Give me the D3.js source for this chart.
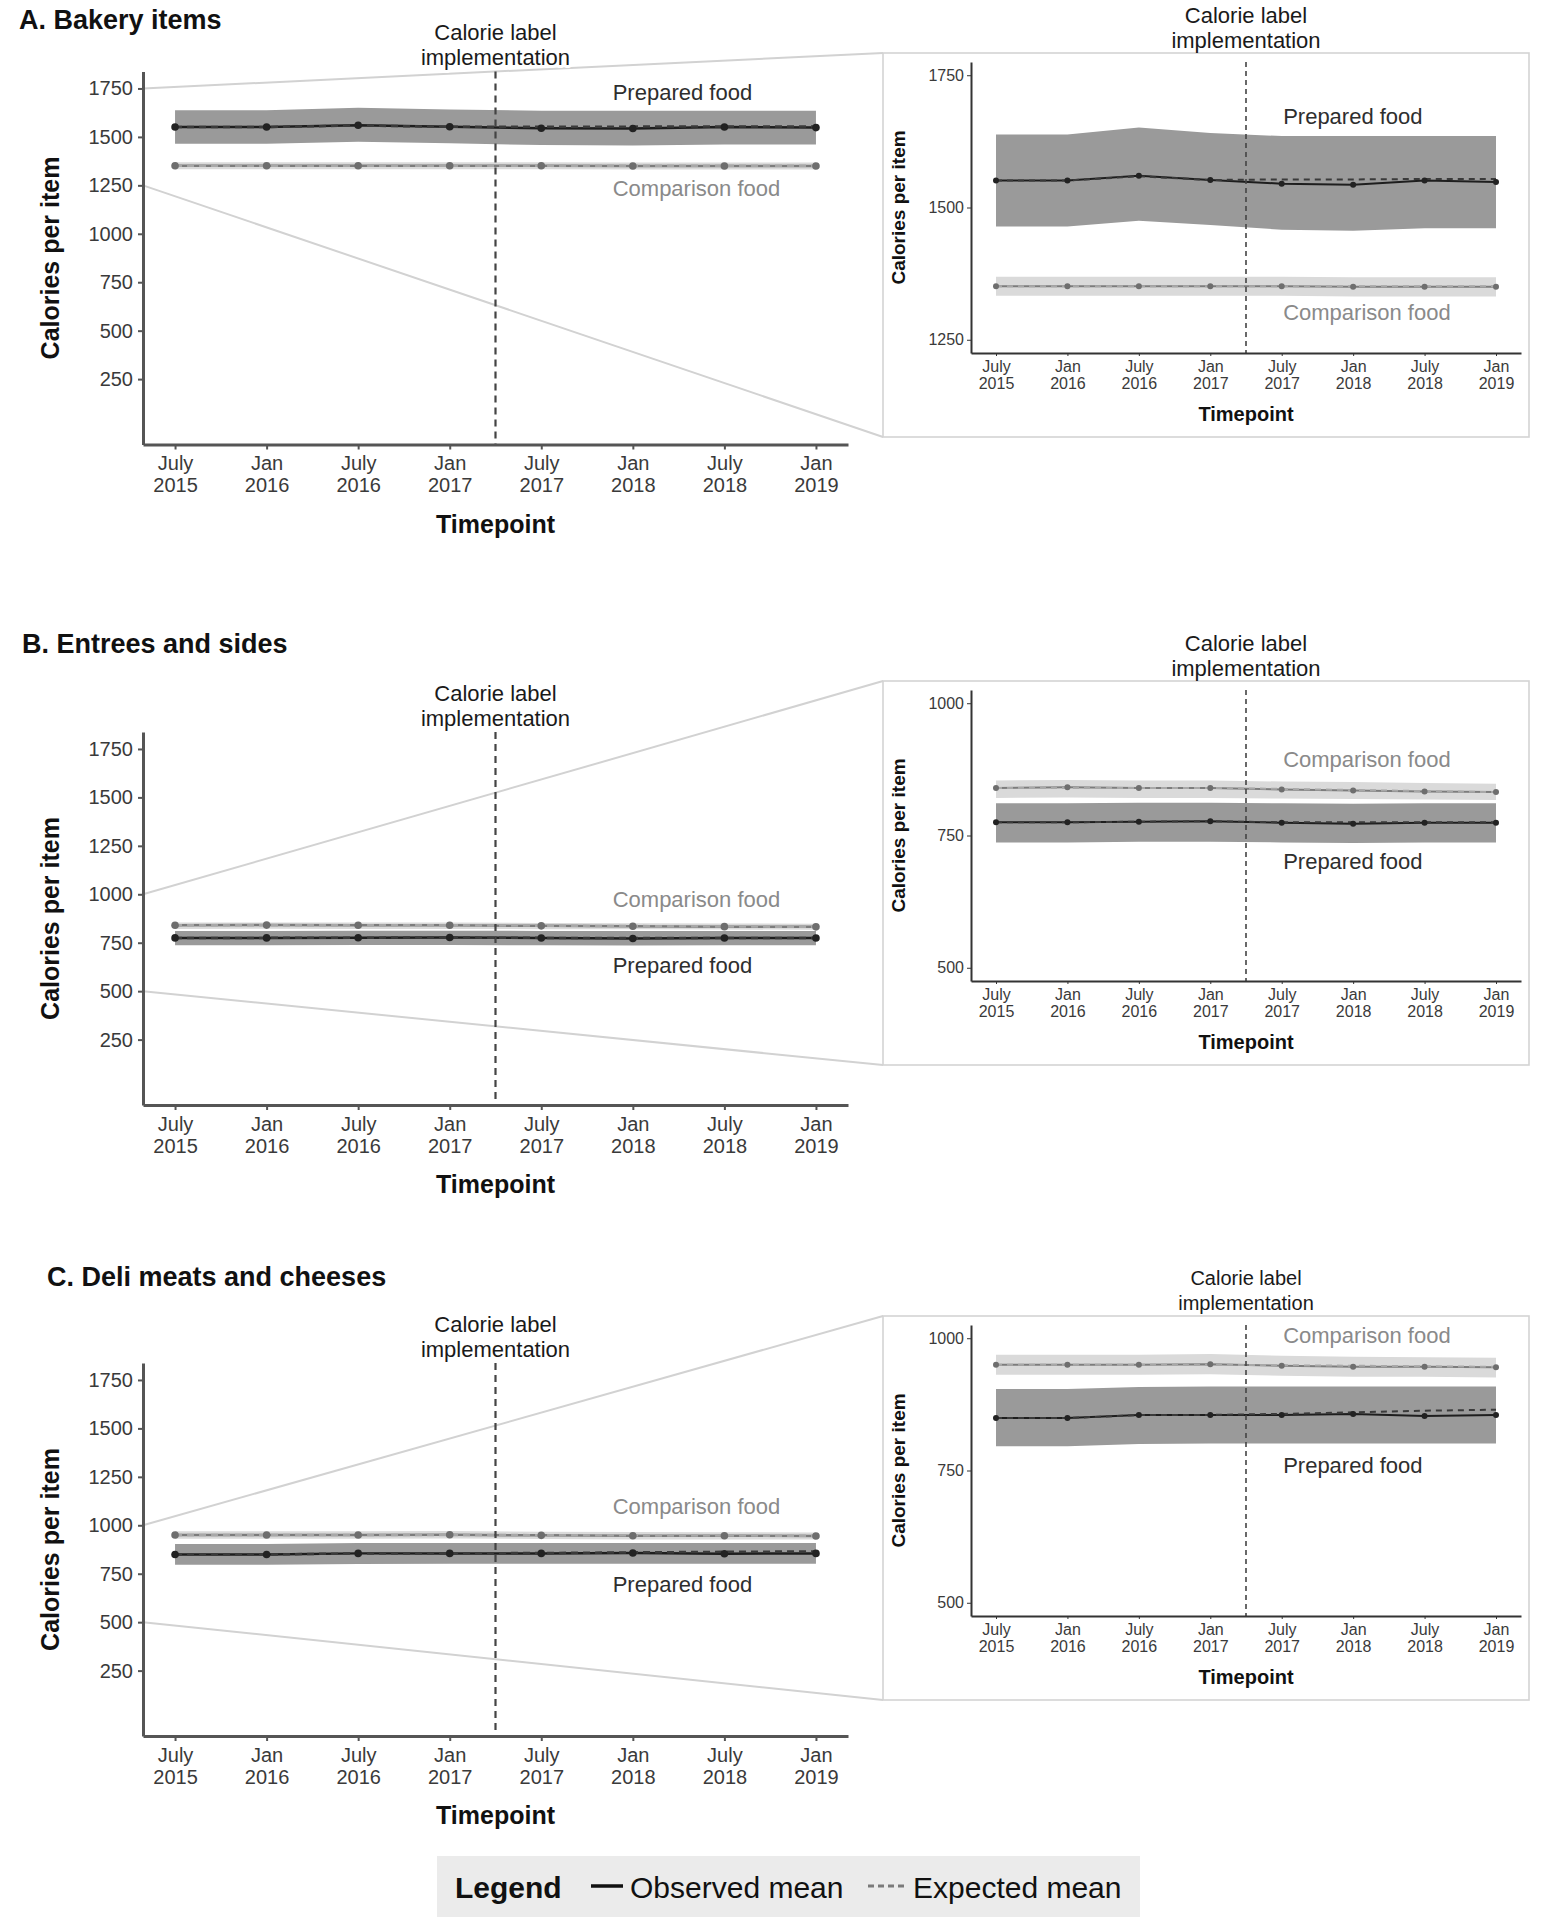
<!DOCTYPE html>
<html>
<head>
<meta charset="utf-8">
<script src="https://cdn.jsdelivr.net/npm/d3@7"></script>
<style>
  html, body { margin: 0; padding: 0; background: #fff; }
  svg { display: block; font-family: "Liberation Sans", Arial, Helvetica, sans-serif; }
</style>
</head>
<body>
<svg id="chart" width="1541" height="1920"></svg>
<script>
// ---------------- DATA ----------------
const timepoints = ["July 2015", "Jan 2016", "July 2016", "Jan 2017", "July 2017", "Jan 2018", "July 2018", "Jan 2019"];
const implementationIndex = 3.5;          // between Jan 2017 and July 2017
const mainYTicks = [250, 500, 750, 1000, 1250, 1500, 1750];
const insetYTicksBakery = [1250, 1500, 1750];
const insetYTicksOther = [500, 750, 1000];

// A. Bakery items
const bakeryPreparedObserved = [1551, 1551, 1560, 1552, 1545, 1543, 1551, 1548];
const bakeryPreparedExpected = [1551, 1551, 1559, 1552, 1553, 1553, 1554, 1554];
const bakeryPreparedLow      = [1464, 1464, 1475, 1467, 1458, 1456, 1461, 1461];
const bakeryPreparedHigh     = [1638, 1638, 1651, 1641, 1635, 1635, 1635, 1635];
const bakeryComparisonObserved = [1351, 1351, 1351, 1351, 1351, 1350, 1350, 1350];
const bakeryComparisonExpected = [1351, 1351, 1351, 1351, 1351, 1351, 1351, 1351];
const bakeryComparisonLow      = [1333, 1333, 1333, 1333, 1333, 1332, 1332, 1332];
const bakeryComparisonHigh     = [1369, 1369, 1369, 1369, 1369, 1368, 1368, 1368];

// B. Entrees and sides
const entreesPreparedObserved = [775, 775, 776, 777, 774, 772, 774, 774];
const entreesPreparedExpected = [775, 775, 776, 777, 775, 775, 775, 775];
const entreesPreparedLow      = [737, 737, 738, 738, 737, 736, 737, 737];
const entreesPreparedHigh     = [811, 811, 812, 812, 811, 810, 811, 811];
const entreesComparisonObserved = [840, 841, 840, 840, 837, 835, 833, 832];
const entreesComparisonExpected = [840, 840, 840, 840, 838, 836, 834, 832];
const entreesComparisonLow      = [821, 822, 821, 821, 820, 819, 818, 817];
const entreesComparisonHigh     = [854, 855, 854, 854, 852, 851, 849, 848];

// C. Deli meats and cheeses
const deliPreparedObserved = [849, 849, 855, 855, 855, 857, 853, 855];
const deliPreparedExpected = [849, 849, 855, 855, 857, 860, 863, 865];
const deliPreparedLow      = [796, 796, 800, 801, 801, 801, 801, 801];
const deliPreparedHigh     = [904, 904, 908, 909, 909, 909, 909, 909];
const deliComparisonObserved = [950, 950, 950, 951, 948, 946, 946, 945];
const deliComparisonExpected = [950, 950, 950, 950, 949, 948, 947, 946];
const deliComparisonLow      = [931, 931, 931, 932, 929, 927, 927, 926];
const deliComparisonHigh     = [969, 969, 969, 970, 967, 965, 964, 963];

// ---------------- LAYOUT ----------------
const svg = d3.select("#chart");
const MAIN = { left: 143, right: 848, height: 373, yDomain: [-87.5, 1837.5] };
const INSET = { left: 971, right: 1521, boxLeft: 883, boxRight: 1529, boxH: 384, top: 9, bottom: 300 };
const C_PREP_BAND = "#9a9a9a", C_COMP_BAND = "#dadada";
const C_PREP_LINE = "#1e1e1e", C_COMP_LINE = "#7d7d7d";
const fmt = d3.format("d");

function series(obs, exp, lo, hi) {
  return timepoints.map((t, i) => ({ i, obs: obs[i], exp: exp[i], lo: lo[i], hi: hi[i] }));
}

const panels = [
  {
    title: "A. Bakery items", titleX: 19, titleY: 20,
    mainBottom: 444.5, insetTop: 53, insetDomain: [1225, 1775], insetTicks: insetYTicksBakery,
    zoomRange: [1250, 1750], implFontInset: 22,
    prepared: series(bakeryPreparedObserved, bakeryPreparedExpected, bakeryPreparedLow, bakeryPreparedHigh),
    comparison: series(bakeryComparisonObserved, bakeryComparisonExpected, bakeryComparisonLow, bakeryComparisonHigh),
    mainLabels: [{ text: "Prepared food", x: 4.78, v: 1730, comp: false }, { text: "Comparison food", x: 4.78, v: 1236, comp: true }],
    insetLabels: [{ text: "Prepared food", x: 4.02, v: 1672, comp: false }, { text: "Comparison food", x: 4.02, v: 1302, comp: true }]
  },
  {
    title: "B. Entrees and sides", titleX: 22, titleY: 644,
    mainBottom: 1105, insetTop: 681, insetDomain: [475, 1025], insetTicks: insetYTicksOther,
    zoomRange: [500, 1000], implFontInset: 22,
    prepared: series(entreesPreparedObserved, entreesPreparedExpected, entreesPreparedLow, entreesPreparedHigh),
    comparison: series(entreesComparisonObserved, entreesComparisonExpected, entreesComparisonLow, entreesComparisonHigh),
    mainLabels: [{ text: "Comparison food", x: 4.78, v: 975, comp: true }, { text: "Prepared food", x: 4.78, v: 630, comp: false }],
    insetLabels: [{ text: "Comparison food", x: 4.02, v: 893, comp: true }, { text: "Prepared food", x: 4.02, v: 700, comp: false }]
  },
  {
    title: "C. Deli meats and cheeses", titleX: 47, titleY: 1277,
    mainBottom: 1736, insetTop: 1316, insetDomain: [475, 1025], insetTicks: insetYTicksOther,
    zoomRange: [500, 1000], implFontInset: 20,
    prepared: series(deliPreparedObserved, deliPreparedExpected, deliPreparedLow, deliPreparedHigh),
    comparison: series(deliComparisonObserved, deliComparisonExpected, deliComparisonLow, deliComparisonHigh),
    mainLabels: [{ text: "Comparison food", x: 4.78, v: 1096, comp: true }, { text: "Prepared food", x: 4.78, v: 692, comp: false }],
    insetLabels: [{ text: "Comparison food", x: 4.02, v: 1006, comp: true }, { text: "Prepared food", x: 4.02, v: 760, comp: false }]
  }
];

function drawPlot(g, x, y, p, opt) {
  const area = d3.area().x(d => x(d.i)).y0(d => y(d.lo)).y1(d => y(d.hi));
  const lineObs = d3.line().x(d => x(d.i)).y(d => y(d.obs));
  const lineExp = d3.line().x(d => x(d.i)).y(d => y(d.exp));

  g.append("path").datum(p.prepared).attr("d", area).attr("fill", C_PREP_BAND);
  g.append("path").datum(p.comparison).attr("d", area).attr("fill", C_COMP_BAND);

  g.append("path").datum(p.comparison).attr("d", lineObs).attr("fill", "none")
    .attr("stroke", C_COMP_LINE).attr("stroke-width", opt.lw);
  g.append("path").datum(p.comparison).attr("d", lineExp).attr("fill", "none")
    .attr("stroke", "#a8a8a8").attr("stroke-width", opt.lw).attr("stroke-dasharray", opt.dash);
  g.append("path").datum(p.prepared).attr("d", lineObs).attr("fill", "none")
    .attr("stroke", C_PREP_LINE).attr("stroke-width", opt.lw);
  g.append("path").datum(p.prepared).attr("d", lineExp).attr("fill", "none")
    .attr("stroke", "#3a3a3a").attr("stroke-width", opt.lw).attr("stroke-dasharray", opt.dash);

  g.selectAll(null).data(p.comparison).enter().append("circle")
    .attr("cx", d => x(d.i)).attr("cy", d => y(d.obs)).attr("r", opt.r).attr("fill", "#6e6e6e");
  g.selectAll(null).data(p.prepared).enter().append("circle")
    .attr("cx", d => x(d.i)).attr("cy", d => y(d.obs)).attr("r", opt.r).attr("fill", "#222");
}

function styleAxis(ax, color, width) {
  ax.select(".domain").attr("stroke", color).attr("stroke-width", width);
  ax.selectAll(".tick line").attr("stroke", color).attr("stroke-width", Math.max(1, width - 1));
}

function twoLineTicks(ax, fontSize, y1, y2) {
  ax.selectAll(".tick text").each(function (i) {
    const parts = timepoints[i].split(" ");
    const t = d3.select(this).text(null).attr("y", null).attr("dy", null);
    t.append("tspan").attr("x", 0).attr("y", y1).text(parts[0]);
    t.append("tspan").attr("x", 0).attr("y", y2).text(parts[1]);
  });
  ax.selectAll(".tick text").attr("font-size", fontSize).attr("fill", "#3a3a3a").attr("font-family", null);
}

// ---------------- CONNECTORS (behind) ----------------
panels.forEach(p => {
  const yM = d3.scaleLinear().domain(MAIN.yDomain).range([p.mainBottom, p.mainBottom - MAIN.height]);
  const top = p.insetTop, bottom = p.insetTop + INSET.boxH;
  svg.append("line").attr("x1", MAIN.left).attr("y1", yM(p.zoomRange[1]))
    .attr("x2", INSET.boxLeft).attr("y2", top).attr("stroke", "#d2d2d2").attr("stroke-width", 2);
  svg.append("line").attr("x1", MAIN.left).attr("y1", yM(p.zoomRange[0]))
    .attr("x2", INSET.boxLeft).attr("y2", bottom).attr("stroke", "#d2d2d2").attr("stroke-width", 2);
});

// ---------------- PANELS ----------------
panels.forEach(p => {
  const g = svg.append("g");
  const x = d3.scaleLinear().domain([-0.35, 7.35]).range([MAIN.left, MAIN.right]);
  const y = d3.scaleLinear().domain(MAIN.yDomain).range([p.mainBottom, p.mainBottom - MAIN.height]);
  const plotTop = p.mainBottom - MAIN.height;

  g.append("text").attr("x", p.titleX).attr("y", p.titleY).attr("dominant-baseline", "central")
    .attr("font-size", 27).attr("font-weight", "bold").attr("fill", "#111").text(p.title);

  drawPlot(g, x, y, p, { lw: 2.5, dash: "7,5", r: 3.8 });

  g.append("line").attr("x1", x(implementationIndex)).attr("x2", x(implementationIndex))
    .attr("y1", plotTop).attr("y2", p.mainBottom)
    .attr("stroke", "#444").attr("stroke-width", 2.2).attr("stroke-dasharray", "7,5");

  const implText = g.append("text").attr("text-anchor", "middle").attr("font-size", 22).attr("fill", "#1a1a1a")
    .attr("stroke", "#fff").attr("stroke-width", 6).attr("paint-order", "stroke").attr("stroke-linejoin", "round");
  implText.append("tspan").attr("x", x(implementationIndex)).attr("y", plotTop - 39).attr("dominant-baseline", "central").text("Calorie label");
  implText.append("tspan").attr("x", x(implementationIndex)).attr("y", plotTop - 14).attr("dominant-baseline", "central").text("implementation");

  p.mainLabels.forEach(l => {
    g.append("text").attr("x", x(l.x)).attr("y", y(l.v)).attr("dominant-baseline", "central")
      .attr("font-size", 22).attr("fill", l.comp ? "#8a8a8a" : "#2e2e2e").text(l.text);
  });

  const yAx = g.append("g").attr("transform", `translate(${MAIN.left},0)`)
    .call(d3.axisLeft(y).tickValues(mainYTicks).tickFormat(fmt).tickSize(5).tickSizeOuter(0).tickPadding(5));
  styleAxis(yAx, "#555", 3);
  yAx.selectAll(".tick text").attr("font-size", 20).attr("fill", "#3a3a3a").attr("font-family", null);

  const xAx = g.append("g").attr("transform", `translate(0,${p.mainBottom})`)
    .call(d3.axisBottom(x).tickValues(d3.range(timepoints.length)).tickSize(5).tickSizeOuter(0));
  styleAxis(xAx, "#555", 3);
  twoLineTicks(xAx, 20, 25.5, 47.5);

  g.append("text").attr("x", (MAIN.left + MAIN.right) / 2).attr("y", p.mainBottom + 79)
    .attr("text-anchor", "middle").attr("dominant-baseline", "central")
    .attr("font-size", 25).attr("font-weight", "bold").attr("fill", "#111").text("Timepoint");
  g.append("text").attr("transform", `translate(50,${p.mainBottom - MAIN.height / 2}) rotate(-90)`)
    .attr("text-anchor", "middle").attr("dominant-baseline", "central")
    .attr("font-size", 25).attr("font-weight", "bold").attr("fill", "#111").text("Calories per item");

  // ---- inset ----
  const gi = svg.append("g");
  const T = p.insetTop;
  gi.append("rect").attr("x", INSET.boxLeft).attr("y", T)
    .attr("width", INSET.boxRight - INSET.boxLeft).attr("height", INSET.boxH)
    .attr("fill", "#fff").attr("stroke", "#d4d4d4").attr("stroke-width", 1.6);

  const xi = d3.scaleLinear().domain([-0.35, 7.35]).range([INSET.left, INSET.right]);
  const yi = d3.scaleLinear().domain(p.insetDomain).range([T + INSET.bottom, T + INSET.top]);

  drawPlot(gi, xi, yi, p, { lw: 2, dash: "6,5", r: 3 });

  gi.append("line").attr("x1", xi(implementationIndex)).attr("x2", xi(implementationIndex))
    .attr("y1", T + INSET.top).attr("y2", T + INSET.bottom)
    .attr("stroke", "#444").attr("stroke-width", 1.6).attr("stroke-dasharray", "5,4");

  const it = gi.append("text").attr("text-anchor", "middle").attr("font-size", p.implFontInset).attr("fill", "#1a1a1a");
  it.append("tspan").attr("x", xi(implementationIndex)).attr("y", T - 38).attr("dominant-baseline", "central").text("Calorie label");
  it.append("tspan").attr("x", xi(implementationIndex)).attr("y", T - 13).attr("dominant-baseline", "central").text("implementation");

  p.insetLabels.forEach(l => {
    gi.append("text").attr("x", xi(l.x)).attr("y", yi(l.v)).attr("dominant-baseline", "central")
      .attr("font-size", 22).attr("fill", l.comp ? "#8a8a8a" : "#2e2e2e").text(l.text);
  });

  const yiAx = gi.append("g").attr("transform", `translate(${INSET.left},0)`)
    .call(d3.axisLeft(yi).tickValues(p.insetTicks).tickFormat(fmt).tickSize(4).tickSizeOuter(0).tickPadding(3));
  styleAxis(yiAx, "#333", 2);
  yiAx.selectAll(".tick text").attr("font-size", 16).attr("fill", "#3a3a3a").attr("font-family", null);

  const xiAx = gi.append("g").attr("transform", `translate(0,${T + INSET.bottom})`)
    .call(d3.axisBottom(xi).tickValues(d3.range(timepoints.length)).tickSize(3).tickSizeOuter(0));
  styleAxis(xiAx, "#333", 2);
  twoLineTicks(xiAx, 16, 19, 36);

  gi.append("text").attr("x", xi(implementationIndex)).attr("y", T + 361)
    .attr("text-anchor", "middle").attr("dominant-baseline", "central")
    .attr("font-size", 20).attr("font-weight", "bold").attr("fill", "#111").text("Timepoint");
  gi.append("text").attr("transform", `translate(898,${T + (INSET.top + INSET.bottom) / 2}) rotate(-90)`)
    .attr("text-anchor", "middle").attr("dominant-baseline", "central")
    .attr("font-size", 19).attr("font-weight", "bold").attr("fill", "#111").text("Calories per item");
});

// ---------------- LEGEND ----------------
const lg = svg.append("g");
lg.append("rect").attr("x", 437).attr("y", 1856).attr("width", 703).attr("height", 61).attr("fill", "#ebebeb");
lg.append("text").attr("x", 455).attr("y", 1887).attr("dominant-baseline", "central")
  .attr("font-size", 30).attr("font-weight", "bold").attr("fill", "#111").text("Legend");
lg.append("line").attr("x1", 591).attr("x2", 623).attr("y1", 1886).attr("y2", 1886)
  .attr("stroke", "#111").attr("stroke-width", 3.5);
lg.append("text").attr("x", 630).attr("y", 1887).attr("dominant-baseline", "central")
  .attr("font-size", 30).attr("fill", "#111").text("Observed mean");
lg.append("line").attr("x1", 868).attr("x2", 908).attr("y1", 1886).attr("y2", 1886)
  .attr("stroke", "#7a7a7a").attr("stroke-width", 3).attr("stroke-dasharray", "6,4");
lg.append("text").attr("x", 913).attr("y", 1887).attr("dominant-baseline", "central")
  .attr("font-size", 30).attr("fill", "#111").text("Expected mean");
</script>
</body>
</html>
